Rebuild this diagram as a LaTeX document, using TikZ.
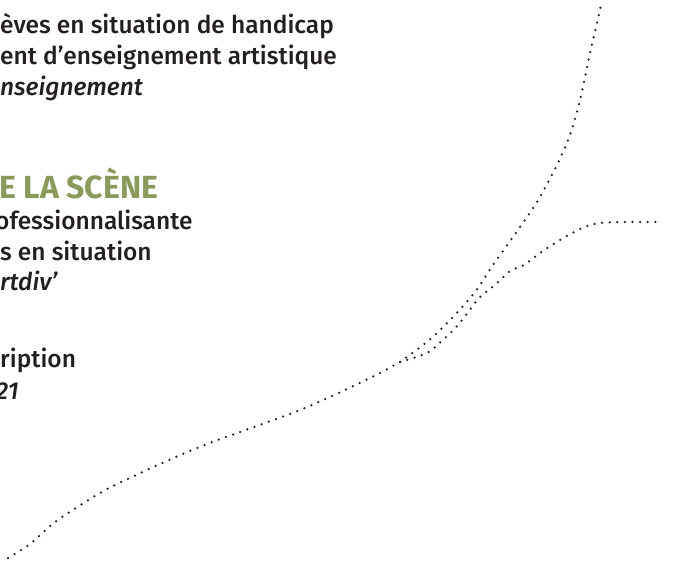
\documentclass[tikz,border=0pt]{standalone}
\usepackage{fontspec}
\setmainfont{Fira Sans}[UprightFont={* Medium}, ItalicFont={* Medium Italic}, BoldFont={* Bold}]
\definecolor{inkgray}{HTML}{231F20}
\definecolor{scenegreen}{HTML}{8A9A5B}
\tikzset{
  bodyline/.style={anchor=base west, inner sep=0pt, text=inkgray,
    font=\fontsize{24.5}{29}\selectfont},
  bodyital/.style={bodyline, font=\fontsize{24.5}{29}\selectfont\itshape},
  headline/.style={anchor=base west, inner sep=0pt, text=scenegreen,
    font=\fontsize{32}{36}\selectfont\bfseries},
  dotted route/.style={line width=2.5pt, line cap=round,
    dash pattern=on 0pt off 7.6pt, inkgray}
}

\begin{document}
\begin{tikzpicture}[x=1pt,y=-1pt]
\useasboundingbox (0,0) rectangle (673,562);
\clip (0,0) rectangle (673,562);
% first block
\node[bodyline] (ligneA) at (0,33) {èves en situation de handicap};
\node[bodyline] (ligneB) at (0,64) {ent d’enseignement artistique};
\node[bodyital] (ligneC) at (0,95) {nseignement};
% scene block
\node[headline] (titre) at (-1,198) {E LA SCÈNE};
\node[bodyline] (ligneD) at (-5,229) {ofessionnalisante};
\node[bodyline] (ligneE) at (0,260) {s en situation};
\node[bodyital] (ligneF) at (0,290) {rtdiv’};
% inscription block
\node[bodyline] (ligneG) at (0,367) {ription};
\node[bodyital] (ligneH) at (-4,399) {21};
% curves
\coordinate (depart) at (8,558);
\coordinate (fourche) at (400,362);
\coordinate (haut) at (601,5);
\coordinate (droite) at (662,222);
\draw[dotted route] plot[smooth] coordinates {(depart) (30,544) (55,522) (87,501) (115,485) (197,448) (300,410) (370,378) (fourche)};
\draw[dotted route] plot[smooth] coordinates {(fourche) (428,341) (453,317) (475,292) (493,265) (513,237) (537,202) (557,165) (570,135) (580,100) (590,53) (597,23) (haut)};
\draw[dotted route] plot[smooth] coordinates {(fourche) (427,353) (445,338) (458,325) (469,311) (480,297) (495,285) (510,271) (524,265) (540,253) (560,240) (582,228) (600,223) (630,222) (droite)};
\end{tikzpicture}
\end{document}
